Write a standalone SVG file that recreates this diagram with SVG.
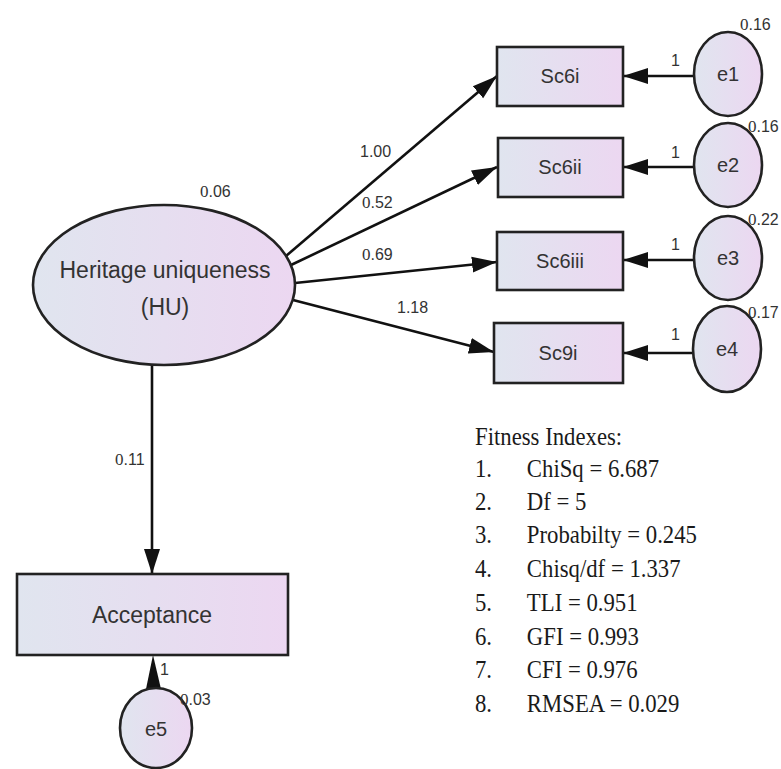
<svg xmlns="http://www.w3.org/2000/svg" width="781" height="769" viewBox="0 0 781 769">
<defs>
<linearGradient id="fillg" x1="0" y1="0" x2="1" y2="0">
<stop offset="0" stop-color="#e0e5ef"/>
<stop offset="1" stop-color="#ecd7f1"/>
</linearGradient>
<marker id="arr" markerUnits="userSpaceOnUse" markerWidth="26" markerHeight="18" refX="25" refY="8" orient="auto" viewBox="0 0 26 16">
<path d="M0,0 L25,8 L0,16 z" fill="#111"/>
</marker>
<style>
.shape{fill:url(#fillg);stroke:#222;stroke-width:2.6}
.conn{stroke:#111;stroke-width:2.6;fill:none}
.lbl{font-family:"Liberation Sans",Arial,sans-serif;fill:#333}
.big{font-size:23px;text-anchor:middle}
.box{font-size:20px;text-anchor:middle}
.num{font-family:"Liberation Sans",Arial,sans-serif;font-size:16px;fill:#333}
.srf{font-family:"Liberation Serif","Times New Roman",serif;font-size:17px}
.fit{font-family:"Liberation Serif","Times New Roman",serif;font-size:25px;fill:#1a1a1a}
</style>
</defs>
<rect width="781" height="769" fill="#fff"/>

<g id="connectors">
<path class="conn" d="M286,256 L497,76" marker-end="url(#arr)"/>
<path class="conn" d="M291,265 L497,167" marker-end="url(#arr)"/>
<path class="conn" d="M295,283 L497,262" marker-end="url(#arr)"/>
<path class="conn" d="M293,300 L494,352" marker-end="url(#arr)"/>
<path class="conn" d="M152,365 L152,574" marker-end="url(#arr)"/>
<path class="conn" d="M694,76 L623,76" marker-end="url(#arr)"/>
<path class="conn" d="M694,167 L623,167" marker-end="url(#arr)"/>
<path class="conn" d="M694,260 L623,260" marker-end="url(#arr)"/>
<path class="conn" d="M693,353 L623,353" marker-end="url(#arr)"/>
<polygon points="153,655 146,689 161,689" fill="#111"/>
<text class="num" x="360" y="157">1.00</text>
<text class="num" x="362" y="208"><tspan class="srf">0</tspan>.52</text>
<text class="num" x="362" y="260"><tspan class="srf">0</tspan>.69</text>
<text class="num" x="397" y="313">1.18</text>
<text class="num" x="115" y="465"><tspan class="srf">0</tspan>.11</text>
<text class="num" x="671" y="66">1</text>
<text class="num" x="671" y="158">1</text>
<text class="num" x="671" y="250">1</text>
<text class="num" x="671" y="340">1</text>
<text class="num" x="160" y="675">1</text>
</g>

<g id="HU">
<ellipse class="shape" cx="164" cy="285" rx="131" ry="80"/>
<text class="lbl big" x="165" y="278">Heritage uniqueness</text>
<text class="lbl big" x="165" y="315">(HU)</text>
<text class="num" x="200" y="197"><tspan class="srf">0</tspan>.06</text>
</g>

<g id="Sc6i">
<rect class="shape" x="497" y="47" width="126" height="59"/>
<text class="lbl box" x="560" y="83">Sc6i</text>
</g>
<g id="Sc6ii">
<rect class="shape" x="498" y="138" width="125" height="59"/>
<text class="lbl box" x="560" y="174">Sc6ii</text>
</g>
<g id="Sc6iii">
<rect class="shape" x="497" y="232" width="126" height="58"/>
<text class="lbl box" x="560" y="268">Sc6iii</text>
</g>
<g id="Sc9i">
<rect class="shape" x="494" y="323" width="129" height="60"/>
<text class="lbl box" x="558" y="360">Sc9i</text>
</g>

<g id="e1">
<ellipse class="shape" cx="728" cy="74" rx="34" ry="42"/>
<text class="lbl box" x="728" y="81">e1</text>
<text class="num" x="740" y="30"><tspan class="srf">0</tspan>.16</text>
</g>
<g id="e2">
<ellipse class="shape" cx="728" cy="165" rx="34" ry="42"/>
<text class="lbl box" x="728" y="172">e2</text>
<text class="num" x="748" y="132"><tspan class="srf">0</tspan>.16</text>
</g>
<g id="e3">
<ellipse class="shape" cx="728" cy="258" rx="34" ry="42"/>
<text class="lbl box" x="728" y="265">e3</text>
<text class="num" x="748" y="225"><tspan class="srf">0</tspan>.22</text>
</g>
<g id="e4">
<ellipse class="shape" cx="727" cy="349" rx="34" ry="43"/>
<text class="lbl box" x="727" y="356">e4</text>
<text class="num" x="748" y="318"><tspan class="srf">0</tspan>.17</text>
</g>

<g id="Acceptance">
<rect class="shape" x="17" y="574" width="271" height="81"/>
<text class="lbl big" x="152" y="623">Acceptance</text>
</g>

<g id="e5">
<ellipse class="shape" cx="156" cy="728" rx="36" ry="40"/>
<text class="lbl box" x="156" y="736">e5</text>
<text class="num" x="180" y="705"><tspan class="srf">0</tspan>.03</text>
</g>

<g id="fitness" transform="translate(475,0) scale(0.91,1) translate(-475,0)">
<text class="fit" x="475" y="445">Fitness Indexes:</text>
<text class="fit" x="475" y="477">1.</text><text class="fit" x="532" y="477">ChiSq = 6.687</text>
<text class="fit" x="475" y="510">2.</text><text class="fit" x="532" y="510">Df = 5</text>
<text class="fit" x="475" y="543">3.</text><text class="fit" x="532" y="543">Probabilty = 0.245</text>
<text class="fit" x="475" y="577">4.</text><text class="fit" x="532" y="577">Chisq/df = 1.337</text>
<text class="fit" x="475" y="611">5.</text><text class="fit" x="532" y="611">TLI = 0.951</text>
<text class="fit" x="475" y="645">6.</text><text class="fit" x="532" y="645">GFI = 0.993</text>
<text class="fit" x="475" y="678">7.</text><text class="fit" x="532" y="678">CFI = 0.976</text>
<text class="fit" x="475" y="712">8.</text><text class="fit" x="532" y="712">RMSEA = 0.029</text>
</g>
</svg>
